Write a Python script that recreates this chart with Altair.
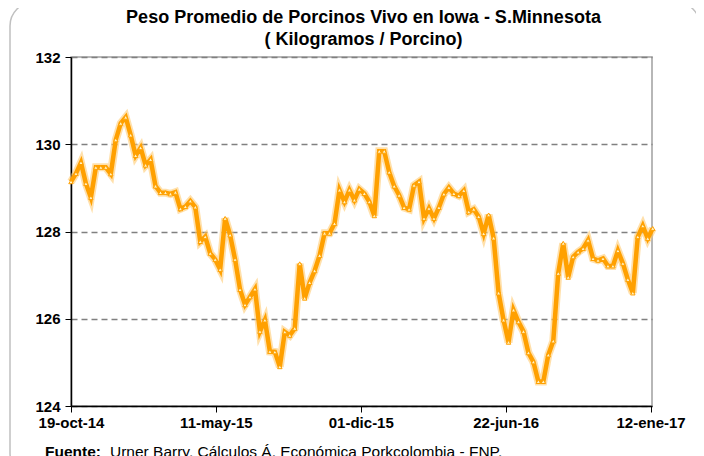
import altair as alt
import pandas as pd

# weekly average live hog weight (kg / hog), Iowa - S.Minnesota
start_date = "2014-10-19"
peso = [
    129.14, 129.33, 129.58, 129.10, 128.78, 129.47, 129.47, 129.47, 129.32, 130.10,
    130.48, 130.62, 130.21, 129.74, 129.92, 129.52, 129.65, 129.04, 128.89, 128.89,
    128.86, 128.90, 128.52, 128.57, 128.70, 128.56, 127.77, 127.88, 127.50, 127.36,
    127.13, 128.30, 127.92, 127.36, 126.67, 126.32, 126.50, 126.68, 125.71, 125.97,
    125.25, 125.24, 124.90, 125.70, 125.62, 125.78, 127.26, 126.47, 126.83, 127.10,
    127.45, 127.96, 127.96, 128.18, 128.95, 128.68, 128.95, 128.72, 128.97, 128.87,
    128.68, 128.36, 129.84, 129.84, 129.36, 129.04, 128.83, 128.55, 128.51, 129.06,
    129.14, 128.30, 128.53, 128.30, 128.55, 128.86, 129.01, 128.87, 128.82, 128.94,
    128.45, 128.51, 128.34, 127.95, 128.38, 127.85, 126.59, 125.97, 125.46, 126.20,
    125.93, 125.71, 125.22, 125.01, 124.56, 124.56, 125.17, 125.49, 127.04, 127.73,
    126.95, 127.42, 127.53, 127.61, 127.80, 127.38, 127.34, 127.38, 127.21, 127.21,
    127.56, 127.27, 126.90, 126.59, 127.88, 128.13, 127.84, 128.07,
]
fechas = pd.date_range(start=start_date, periods=len(peso), freq="7D").strftime("%Y-%m-%d")

tick_dates = [(2014, 10, 19), (2015, 5, 11), (2015, 12, 1), (2016, 6, 22), (2017, 1, 12)]
meses = ['ene', 'feb', 'mar', 'abr', 'may', 'jun', 'jul', 'ago', 'sep', 'oct', 'nov', 'dic']
y_ticks = [124, 126, 128, 130, 132]

title_lines = ["Peso Promedio de Porcinos Vivo en Iowa - S.Minnesota", "( Kilogramos / Porcino)"]
fuente_bold = "Fuente:"
fuente_text = "Urner Barry, Cálculos Á. Económica Porkcolombia  - FNP."

df = pd.DataFrame({"fecha": fechas, "peso": peso})

FONT = "Liberation Sans"
W, H = 581, 349

meses_js = "[" + ",".join(f"'{m}'" for m in meses) + "]"
label_expr = ("utcFormat(datum.value, '%d') + '-' + " + meses_js +
              "[utcmonth(datum.value)] + '-' + utcFormat(datum.value, '%y')")

x_enc = alt.X(
    "fecha:T",
    scale=alt.Scale(type="utc",
                    domain=[alt.DateTime(year=2014, month=10, date=19, utc=True),
                            alt.DateTime(year=2017, month=1, date=14, utc=True)]),
    axis=alt.Axis(
        values=[alt.DateTime(year=y, month=m, date=d, utc=True) for (y, m, d) in tick_dates],
        labelExpr=label_expr, title=None, grid=False,
        labelFont=FONT, labelFontSize=15, labelFontWeight="bold", labelColor="#000000",
        domainColor="#000000", domainWidth=1.5, tickColor="#000000", tickSize=6,
        labelPadding=3, labelOverlap=False, labelFlush=False,
    ),
)
y_enc = alt.Y(
    "peso:Q",
    scale=alt.Scale(domain=[124, 132], zero=False, nice=False),
    axis=alt.Axis(
        values=y_ticks, title=None, grid=True, gridDash=[6, 4], gridColor="#808080",
        gridWidth=1.3, labelFont=FONT, labelFontSize=15, labelFontWeight="bold",
        labelColor="#000000", domainColor="#000000", domainWidth=1.5,
        tickColor="#000000", tickSize=6, labelPadding=5,
    ),
)

base = alt.Chart(df)
halo = base.mark_line(color="#FFC766", strokeWidth=8, opacity=0.55).encode(x=x_enc, y=y_enc)
line = base.mark_line(color="#FFA000", strokeWidth=4.5).encode(x=x_enc, y=y_enc)
pts = base.mark_point(shape="triangle-up", filled=True, fill="#FFF4C8", stroke="#FFA000",
                      strokeWidth=1, size=20, opacity=1).encode(x=x_enc, y=y_enc)

frame = alt.Chart(pd.DataFrame({"k": [0]})).mark_rect(
    fill=None, stroke="#C0C0C0", strokeWidth=1.5, cornerRadius=24, clip=False
).encode(x=alt.value(-61), x2=alt.value(629), y=alt.value(-55), y2=alt.value(420))

tdf = pd.DataFrame({"t1": [title_lines[0]], "t2": [title_lines[1]]})
title1 = alt.Chart(tdf).mark_text(align="center", baseline="middle", font=FONT, fontSize=18,
                                  fontWeight="bold", color="#000000").encode(
    text="t1:N", x=alt.value(W / 2 + 2), y=alt.value(-39))
title2 = alt.Chart(tdf).mark_text(align="center", baseline="middle", font=FONT, fontSize=18,
                                  fontWeight="bold", color="#000000").encode(
    text="t2:N", x=alt.value(W / 2 + 2), y=alt.value(-17))

src = pd.DataFrame({"b": [fuente_bold], "t": [fuente_text]})
fuente1 = alt.Chart(src).mark_text(align="left", baseline="middle", font=FONT, fontSize=15.5,
                                   fontWeight="bold", color="#000000").encode(
    text="b:N", x=alt.value(-26), y=alt.value(H + 46))
fuente2 = alt.Chart(src).mark_text(align="left", baseline="middle", font=FONT, fontSize=15.5,
                                   color="#000000").encode(
    text="t:N", x=alt.value(39), y=alt.value(H + 46))

chart = alt.layer(frame, halo, line, pts, title1, title2, fuente1, fuente2).properties(
    width=W, height=H,
    autosize=alt.AutoSizeParams(type="none"),
    padding={"left": 63, "top": 49, "right": 44, "bottom": 50},
    background="#FFFFFF",
).configure_view(stroke="#A0A0A0", strokeWidth=1.5)

chart.save("out.html", embed_options={"renderer": "svg", "actions": False})
